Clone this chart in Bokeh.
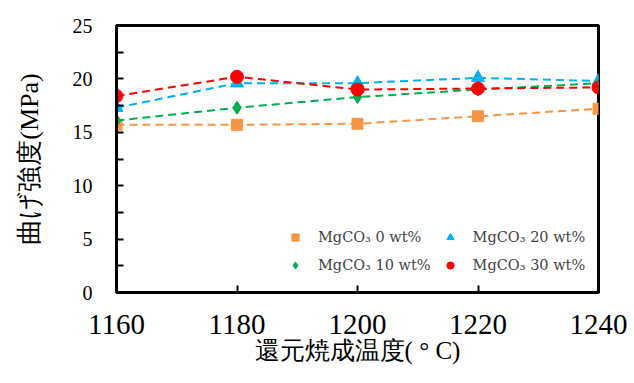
from bokeh.plotting import figure
from bokeh.models import Legend, LegendItem, FixedTicker, Range1d
from bokeh.embed import file_html
from bokeh.resources import INLINE

temps = [1160, 1180, 1200, 1220, 1240]
mg0 = [15.7, 15.7, 15.8, 16.5, 17.2]
mg10 = [16.1, 17.3, 18.3, 19.0, 19.6]
mg20 = [17.3, 19.6, 19.6, 20.1, 19.8]
mg30 = [18.4, 20.2, 19.0, 19.1, 19.2]
labels = ["MgCO₃ 0 wt%", "MgCO₃ 10 wt%", "MgCO₃ 20 wt%", "MgCO₃ 30 wt%"]
colors = ["#F79646", "#00B050", "#00B0F0", "#FF0000"]
x_ticks = [1160, 1180, 1200, 1220, 1240]
y_ticks = [0, 5, 10, 15, 20, 25]
y_minor = [2.5, 7.5, 12.5, 17.5, 22.5]

p = figure(width=634, height=383, output_backend="svg", toolbar_location=None,
           x_range=Range1d(1160, 1240), y_range=Range1d(0, 25),
           min_border_left=116, min_border_right=36, min_border_top=25, min_border_bottom=91)
p.xgrid.visible = False
p.ygrid.visible = False
p.outline_line_color = "black"
p.outline_line_width = 3

items = []
for s, c, m, sz, lab in zip([mg0, mg10, mg20, mg30], colors,
                            ["square", "diamond", "triangle", "circle"], [11, 13, 13, 13], labels):
    p.line(temps, s, line_color=c, line_width=2, line_dash="8 5")
    r = p.scatter(temps, s, marker=m, size=sz, fill_color=c, line_color=c)
    items.append(LegendItem(label=lab, renderers=[r]))

p.add_layout(Legend(items=items, ncols=2, orientation="vertical", location=(170, 18),
                    border_line_color=None, background_fill_alpha=0,
                    label_text_font="DejaVu Serif", label_text_font_size="14.5px",
                    glyph_width=18, glyph_height=18, spacing=10, label_standoff=14,
                    padding=0, margin=0), "center")

for ax in (p.xaxis, p.yaxis):
    ax.axis_line_width = 3
    ax.axis_line_color = "black"
    ax.major_tick_line_width = 2
    ax.major_tick_out = 0
    ax.major_tick_in = 7
    ax.major_label_text_font = "Liberation Serif"
    ax.major_label_text_color = "black"
    ax.axis_label_text_font = "Liberation Serif"
    ax.axis_label_text_font_style = "normal"
    ax.axis_label_text_color = "black"
p.yaxis.minor_tick_line_width = 2
p.yaxis.minor_tick_out = 0
p.yaxis.minor_tick_in = 7
p.xaxis.minor_tick_line_color = None
p.xaxis.ticker = FixedTicker(ticks=x_ticks)
p.yaxis.ticker = FixedTicker(ticks=y_ticks, minor_ticks=y_minor)
p.xaxis.major_label_text_font_size = "29px"
p.yaxis.major_label_text_font_size = "20px"
p.xaxis.major_label_standoff = 22
p.yaxis.major_label_standoff = 24
p.xaxis.axis_label = "還元焼成温度( ° C)"
p.yaxis.axis_label = "曲げ強度(MPa)"
p.xaxis.axis_label_text_font_size = "25px"
p.yaxis.axis_label_text_font_size = "26px"
p.xaxis.axis_label_standoff = 0
p.yaxis.axis_label_standoff = 26

open("out.html", "w").write(file_html(p, INLINE))
